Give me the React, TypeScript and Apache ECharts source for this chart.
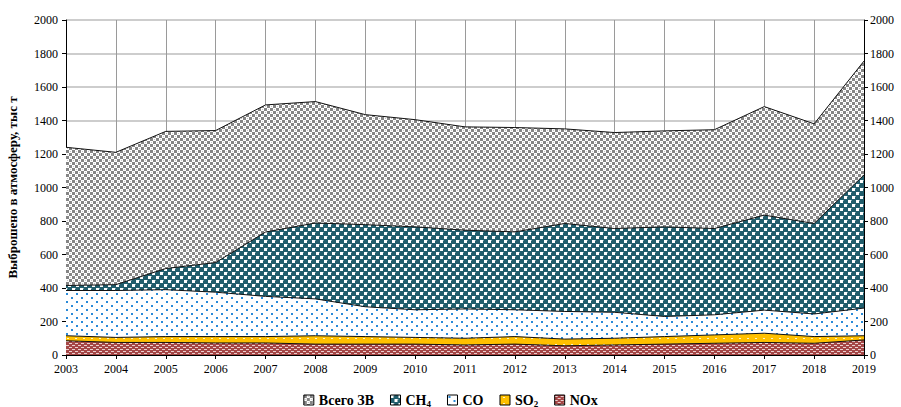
import React, { useEffect, useRef } from "react";
import * as echarts from "echarts";

const years = ["2003","2004","2005","2006","2007","2008","2009","2010","2011","2012","2013","2014","2015","2016","2017","2018","2019"];
const totalVals = [1240,1210,1335,1340,1493,1513,1435,1405,1362,1358,1350,1328,1338,1345,1483,1380,1755];
const ch4Vals = [415,420,516,552,734,788,778,765,745,735,785,755,765,755,835,785,1075];
const coVals = [385,385,390,375,350,335,288,270,275,270,260,255,230,240,268,245,280];
const so2Vals = [115,105,110,110,110,115,110,105,100,110,95,100,110,120,130,110,115];
const noxVals = [85,75,75,72,72,65,65,65,60,65,55,60,65,70,75,70,90];
const seriesNames = ["Всего ЗВ", "CH₄", "CO", "SO₂", "NOx"];
const yTicks = { min: 0, max: 2000, interval: 200 };

function makeTile(w: number, h: number, draw: (c: CanvasRenderingContext2D) => void) {
  const cv = document.createElement("canvas");
  cv.width = w; cv.height = h;
  const c = cv.getContext("2d")!;
  draw(c);
  return { image: cv, repeat: "repeat", imageWidth: w, imageHeight: h } as any;
}

export default function App() {
  const ref = useRef<HTMLDivElement>(null);
  useEffect(() => {
    if (!ref.current) return;
    const chart = echarts.init(ref.current, undefined, { renderer: "svg" });
    const totalPat = makeTile(6, 6, (c) => {
      c.fillStyle = "#ffffff"; c.fillRect(0, 0, 6, 6);
      c.fillStyle = "#858585"; c.fillRect(0, 0, 3, 3); c.fillRect(3, 3, 3, 3);
      c.fillStyle = "#c4c4c4"; c.fillRect(4, 1, 1, 1); c.fillRect(1, 4, 1, 1);
    });
    const ch4Pat = makeTile(8, 8, (c) => {
      c.fillStyle = "#215d6c"; c.fillRect(0, 0, 8, 8);
      c.fillStyle = "#ffffff"; c.fillRect(0, 0, 3, 3); c.fillRect(4, 4, 3, 3);
      c.fillStyle = "#7fa4ad"; c.fillRect(3, 0, 1, 1); c.fillRect(7, 4, 1, 1);
    });
    const coPat = makeTile(10, 8, (c) => {
      c.fillStyle = "#ffffff"; c.fillRect(0, 0, 10, 8);
      c.fillStyle = "#2a8ad8"; c.fillRect(1, 1, 2, 2); c.fillRect(6, 5, 2, 2);
    });
    const so2Pat = makeTile(8, 6, (c) => {
      c.fillStyle = "#ffc000"; c.fillRect(0, 0, 8, 6);
      c.fillStyle = "#fff3c8"; c.fillRect(3, 2, 2, 1);
    });
    const noxPat = makeTile(6, 4, (c) => {
      c.fillStyle = "#a54646"; c.fillRect(0, 0, 6, 4);
      c.fillStyle = "#ecd0d0"; c.fillRect(0, 1, 3, 1); c.fillRect(3, 3, 3, 1);
    });
    const pats = [totalPat, ch4Pat, coPat, so2Pat, noxPat];
    const dataSets = [totalVals, ch4Vals, coVals, so2Vals, noxVals];
    const font = "Liberation Serif";
    const fmt = (v: number) => String(v);
    chart.setOption({
      animation: false,
      textStyle: { fontFamily: font },
      grid: { left: 66, right: 37, top: 20, bottom: 52, outerBoundsMode: "none", containLabel: false },
      legend: {
        top: 392,
        left: "center",
        padding: 0,
        itemWidth: 10,
        itemHeight: 10,
        itemGap: 16,
        icon: "rect",
        data: seriesNames.map((n, i) => ({
          name: n,
          itemStyle: { color: pats[i], borderColor: "#000", borderWidth: 1 },
        })),
        formatter: (n: string) => {
          if (n === "CH₄") return "{m|CH}{s|4}";
          if (n === "SO₂") return "{m|SO}{s|2}";
          return "{m|" + n + "}";
        },
        textStyle: {
          fontFamily: font, fontWeight: "bold", fontSize: 14, color: "#000", lineHeight: 16,
          rich: {
            m: { fontFamily: font, fontWeight: "bold", fontSize: 14, color: "#000", lineHeight: 16 },
            s: { fontFamily: font, fontWeight: "bold", fontSize: 9, color: "#000", lineHeight: 16, verticalAlign: "bottom" },
          },
        },
      },
      xAxis: {
        type: "category",
        data: years,
        boundaryGap: false,
        axisLine: { lineStyle: { color: "#000", width: 1 } },
        axisTick: { show: true, length: 4, lineStyle: { color: "#000" } },
        axisLabel: { color: "#000", fontSize: 12, fontFamily: font, margin: 8 },
        splitLine: { show: true, lineStyle: { color: "#9a9a9a", width: 1 } },
      },
      yAxis: [
        {
          type: "value", ...yTicks,
          name: "Выброшено в атмосферу, тыс т",
          nameLocation: "middle",
          nameGap: 47,
          nameTextStyle: { fontFamily: font, fontWeight: "bold", fontSize: 13, color: "#000" },
          axisLine: { show: true, lineStyle: { color: "#000" } },
          axisTick: { show: true, length: 4, lineStyle: { color: "#000" } },
          axisLabel: { color: "#000", fontSize: 12, fontFamily: font, margin: 8, formatter: fmt },
          splitLine: { show: true, lineStyle: { color: "#bdbdbd", width: 1.5 } },
        },
        {
          type: "value", ...yTicks,
          position: "right",
          axisLine: { show: true, lineStyle: { color: "#000" } },
          axisTick: { show: true, length: 4, lineStyle: { color: "#000" } },
          axisLabel: { color: "#000", fontSize: 12, fontFamily: font, margin: 6, formatter: fmt },
          splitLine: { show: false },
        },
      ],
      series: seriesNames.map((n, i) => ({
        name: n,
        type: "line",
        data: dataSets[i],
        showSymbol: false,
        symbol: "none",
        lineStyle: { color: "#111", width: 1 },
        itemStyle: { color: pats[i] },
        areaStyle: { color: pats[i], opacity: 1 },
      })),
    });
    return () => chart.dispose();
  }, []);
  return <div ref={ref} style={{ position: "absolute", left: 0, top: 0, width: 901, height: 407 }} />;
}
